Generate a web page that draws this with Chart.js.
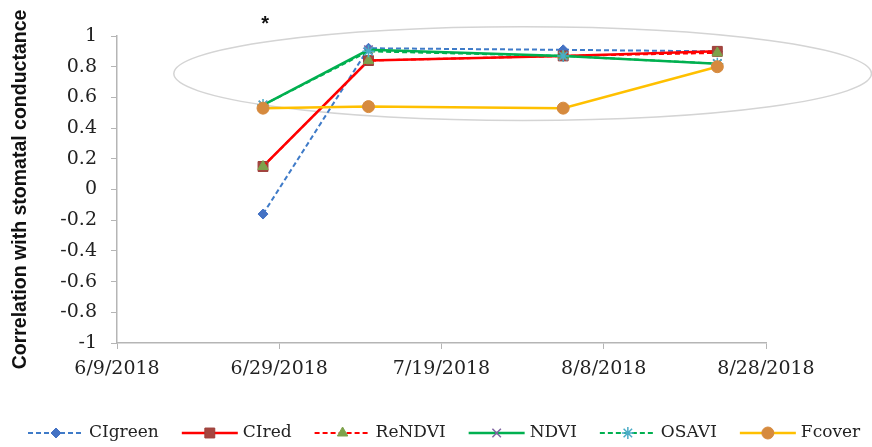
<!DOCTYPE html>
<html>
<head>
<meta charset="utf-8">
<script src="https://cdn.jsdelivr.net/npm/chart.js@4/dist/chart.umd.min.js"></script>
<style>
  html, body { margin: 0; padding: 0; background: #fff; }
  #wrap { width: 872px; height: 447px; position: relative; }
</style>
</head>
<body>
<div id="wrap"><canvas id="corrChart"></canvas></div>
<script>
// sampling dates and correlations
const dates = ['2018-06-27', '2018-07-10', '2018-08-03', '2018-08-22'];
const ciGreen = [-0.16, 0.92, 0.91, 0.90];
const ciRed = [0.15, 0.84, 0.87, 0.90];
const reNdvi = [0.15, 0.84, 0.87, 0.89];
const ndvi = [0.55, 0.91, 0.87, 0.82];
const osavi = [0.55, 0.90, 0.87, 0.82];
const fcover = [0.53, 0.54, 0.53, 0.80];

const xTickLabels = ['6/9/2018', '6/29/2018', '7/19/2018', '8/8/2018', '8/28/2018'];
const yTicks = [-1, -0.8, -0.6, -0.4, -0.2, 0, 0.2, 0.4, 0.6, 0.8, 1];

// x axis is days since the first tick date
const axisStart = Date.parse('2018-06-09');
const toDay = s => (Date.parse(s) - axisStart) / 864e5;
const pts = vals => vals.map((v, i) => ({ x: toDay(dates[i]), y: v }));

// grey ellipse and asterisk, in data units
const ringFrom = '2018-06-16', ringTo = '2018-09-10', ringTop = 1.06, ringBottom = 0.45;
const starDate = '2018-06-27', starValue = 1.1;

const serif = '"DejaVu Serif", "Liberation Serif", serif';

const ellipsePlugin = {
    id: 'ellipse',
    beforeDatasetsDraw(chart) {
        const { ctx, scales: { x, y } } = chart;
        const x1 = x.getPixelForValue(toDay(ringFrom)), x2 = x.getPixelForValue(toDay(ringTo));
        const y1 = y.getPixelForValue(ringTop), y2 = y.getPixelForValue(ringBottom);
        ctx.save();
        ctx.strokeStyle = '#d4d4d4';
        ctx.lineWidth = 1.5;
        ctx.beginPath();
        ctx.ellipse((x1 + x2) / 2, (y1 + y2) / 2, (x2 - x1) / 2, (y2 - y1) / 2, 0, 0, Math.PI * 2);
        ctx.stroke();
        ctx.fillStyle = '#111';
        ctx.font = 'bold 20px "Liberation Sans", sans-serif';
        ctx.textAlign = 'center';
        ctx.textBaseline = 'middle';
        ctx.fillText('*', x.getPixelForValue(toDay(starDate)) + 2, y.getPixelForValue(starValue) + 4);
        ctx.restore();
    }
};

// excel style legend: line sample with marker in the middle
const lineLegend = {
    id: 'lineLegend',
    afterDraw(chart) {
        const ctx = chart.ctx;
        const yPos = 433, sample = 56, gap = 5, itemGap = 23;
        let xPos = 28;
        ctx.save();
        ctx.font = '17px ' + serif;
        ctx.textBaseline = 'middle';
        chart.data.datasets.forEach(ds => {
            ctx.strokeStyle = ds.borderColor;
            ctx.lineWidth = ds.borderWidth;
            ctx.setLineDash(ds.borderDash || []);
            ctx.beginPath();
            ctx.moveTo(xPos, yPos);
            ctx.lineTo(xPos + sample, yPos);
            ctx.stroke();
            ctx.setLineDash([]);
            ctx.fillStyle = ds.pointBackgroundColor;
            ctx.strokeStyle = ds.pointBorderColor;
            ctx.lineWidth = ds.pointBorderWidth;
            Chart.helpers.drawPoint(ctx, {
                pointStyle: ds.pointStyle, radius: ds.pointRadius, rotation: 0, borderWidth: ds.pointBorderWidth
            }, xPos + sample / 2, yPos);
            ctx.fillStyle = '#222';
            ctx.fillText(ds.label, xPos + sample + gap, yPos);
            xPos += sample + gap + ctx.measureText(ds.label).width + itemGap;
        });
        ctx.restore();
    }
};

const ctx = document.getElementById('corrChart').getContext('2d');
const corrChart = new Chart(ctx, {
    type: 'line',
    data: {
        datasets: [
            {
                label: 'CIgreen', data: pts(ciGreen), order: 6,
                borderColor: '#3F7BC8', borderWidth: 2, borderDash: [5, 3],
                pointStyle: 'rectRot', pointRadius: 5,
                pointBackgroundColor: '#4472C4', pointBorderColor: '#4472C4', pointBorderWidth: 1
            },
            {
                label: 'CIred', data: pts(ciRed), order: 5,
                borderColor: '#FF0000', borderWidth: 2.5,
                pointStyle: 'rect', pointRadius: 7,
                pointBackgroundColor: '#A5453F', pointBorderColor: '#9C3D38', pointBorderWidth: 1
            },
            {
                label: 'ReNDVI', data: pts(reNdvi), order: 4,
                borderColor: '#FF0000', borderWidth: 2, borderDash: [5, 3],
                pointStyle: 'triangle', pointRadius: 6,
                pointBackgroundColor: '#7EA24C', pointBorderColor: '#7EA24C', pointBorderWidth: 1
            },
            {
                label: 'NDVI', data: pts(ndvi), order: 3,
                borderColor: '#00B050', borderWidth: 2.5,
                pointStyle: 'crossRot', pointRadius: 6,
                pointBackgroundColor: '#8064A2', pointBorderColor: '#8064A2', pointBorderWidth: 1.5
            },
            {
                label: 'OSAVI', data: pts(osavi), order: 2,
                borderColor: '#00B050', borderWidth: 2, borderDash: [5, 3],
                pointStyle: 'star', pointRadius: 6,
                pointBackgroundColor: '#4BACC6', pointBorderColor: '#4BACC6', pointBorderWidth: 1.5
            },
            {
                label: 'Fcover', data: pts(fcover), order: 1,
                borderColor: '#FFC000', borderWidth: 2.5,
                pointStyle: 'circle', pointRadius: 6,
                pointBackgroundColor: '#D68A3E', pointBorderColor: '#D68A3E', pointBorderWidth: 1
            }
        ]
    },
    options: {
        responsive: true,
        maintainAspectRatio: false,
        animation: false,
        tension: 0,
        layout: { padding: { top: 36, right: 106, bottom: 62, left: 9 } },
        plugins: {
            legend: { display: false },
            tooltip: { enabled: false }
        },
        scales: {
            x: {
                type: 'linear',
                min: 0,
                max: 80,
                afterBuildTicks: s => { s.ticks = xTickLabels.map((_, i) => ({ value: i * 20 })); },
                afterFit: s => { s.height = 42; },
                ticks: {
                    color: '#222',
                    font: { family: serif, size: 19 },
                    maxRotation: 0,
                    padding: 9,
                    callback: (v, i) => xTickLabels[i]
                },
                grid: { drawOnChartArea: false, tickLength: 6, color: '#b5b5b5' },
                border: { color: '#b5b5b5', width: 1.5 }
            },
            y: {
                min: -1,
                max: 1,
                afterBuildTicks: s => { s.ticks = yTicks.map(v => ({ value: v })); },
                afterFit: s => { s.width = 108; },
                ticks: {
                    color: '#222',
                    font: { family: serif, size: 19 },
                    padding: 14,
                    callback: v => String(+v.toFixed(1))
                },
                grid: { drawOnChartArea: false, tickLength: 6, color: '#b5b5b5' },
                border: { color: '#b5b5b5', width: 1.5 },
                title: {
                    display: true,
                    text: 'Correlation with stomatal conductance',
                    color: '#111',
                    font: { family: '"Liberation Sans", sans-serif', size: 19.5, weight: 'bold' },
                    padding: { top: 0, bottom: 0 }
                }
            }
        }
    },
    plugins: [ellipsePlugin, lineLegend]
});
</script>
</body>
</html>
